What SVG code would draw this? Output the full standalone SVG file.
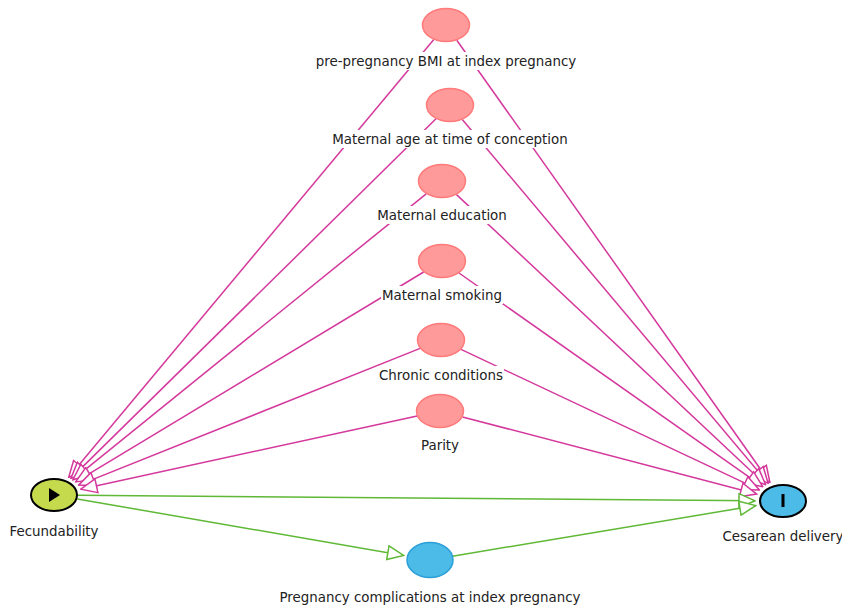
<svg xmlns="http://www.w3.org/2000/svg" width="842" height="610" viewBox="0 0 842 610">
<style>
.m{stroke:#d4389c;stroke-width:1.5;fill:none;marker-end:url(#am)}
.g{stroke:#5fb836;stroke-width:1.5;fill:none;marker-end:url(#ag)}
.conf{fill:#ff9a9a;stroke:#ff7a7a;stroke-width:1.5}
.lbl{font-family:"DejaVu Sans",sans-serif;font-size:13.4px;fill:#222;text-anchor:middle}
.bg{fill:#fff}
</style>
<defs>
<marker id="am" markerUnits="userSpaceOnUse" viewBox="0 0 18 16" markerWidth="18" markerHeight="16" refX="17" refY="8" orient="auto">
<path d="M1,1 L17,8 L1,15 z" fill="#fff" stroke="#d4389c" stroke-width="1.5"/>
</marker>
<marker id="ag" markerUnits="userSpaceOnUse" viewBox="0 0 18 16" markerWidth="18" markerHeight="16" refX="17" refY="8" orient="auto">
<path d="M1,1 L17,8 L1,15 z" fill="#fff" stroke="#5fb836" stroke-width="1.5"/>
</marker>
</defs>
<rect width="842" height="610" fill="#fff"/>
<g id="connectors">
<line class="m" x1="433.8" y1="39.6" x2="68.7" y2="477.3"/>
<line class="m" x1="456.8" y1="40.2" x2="769.9" y2="482.5"/>
<line class="m" x1="436.0" y1="118.8" x2="70.9" y2="478.4"/>
<line class="m" x1="462.3" y1="119.6" x2="768.1" y2="483.3"/>
<line class="m" x1="426.2" y1="193.8" x2="72.9" y2="479.7"/>
<line class="m" x1="456.5" y1="194.6" x2="765.6" y2="484.7"/>
<line class="m" x1="423.7" y1="272.0" x2="75.7" y2="481.9"/>
<line class="m" x1="459.0" y1="273.0" x2="762.7" y2="486.7"/>
<line class="m" x1="420.1" y1="348.4" x2="78.6" y2="485.1"/>
<line class="m" x1="461.0" y1="349.4" x2="759.4" y2="489.9"/>
<line class="m" x1="417.1" y1="416.0" x2="80.8" y2="489.2"/>
<line class="m" x1="462.5" y1="416.9" x2="756.6" y2="494.1"/>
<line class="g" x1="78" y1="495.2" x2="755" y2="500.8"/>
<line class="g" x1="77.3" y1="499.0" x2="403.6" y2="555.4"/>
<line class="g" x1="452.5" y1="556.2" x2="755.7" y2="505.6"/>
</g>
<g id="n-bmi">
<ellipse class="conf" cx="446" cy="25" rx="23.5" ry="16.5"/>
<rect class="bg" x="315" y="52" width="263" height="18"/>
<text class="lbl" x="446" y="65.5">pre-pregnancy BMI at index pregnancy</text>
</g>
<g id="n-age">
<ellipse class="conf" cx="450" cy="105" rx="23.5" ry="16.5"/>
<rect class="bg" x="332" y="130" width="236" height="18"/>
<text class="lbl" x="450" y="143.5">Maternal age at time of conception</text>
</g>
<g id="n-edu">
<ellipse class="conf" cx="442" cy="181" rx="23.5" ry="16.5"/>
<rect class="bg" x="378" y="206" width="129" height="18"/>
<text class="lbl" x="442" y="219.5">Maternal education</text>
</g>
<g id="n-smoke">
<ellipse class="conf" cx="442" cy="261" rx="23.5" ry="16.5"/>
<rect class="bg" x="381" y="286" width="122" height="18"/>
<text class="lbl" x="442" y="299.5">Maternal smoking</text>
</g>
<g id="n-chronic">
<ellipse class="conf" cx="441" cy="340" rx="23.5" ry="16.5"/>
<rect class="bg" x="377" y="366" width="127" height="18"/>
<text class="lbl" x="441" y="379.5">Chronic conditions</text>
</g>
<g id="n-parity">
<ellipse class="conf" cx="440" cy="411" rx="23.5" ry="16.5"/>
<rect class="bg" x="420" y="436" width="39" height="18"/>
<text class="lbl" x="440" y="449.5">Parity</text>
</g>
<g id="n-fec">
<ellipse cx="54" cy="495" rx="23" ry="16" fill="#c6da4e" stroke="#000" stroke-width="2"/>
<polygon points="49,488 60,495 49,502" fill="#000"/>
<text class="lbl" x="54" y="535.5">Fecundability</text>
</g>
<g id="n-ces">
<ellipse cx="783" cy="501" rx="23" ry="16" fill="#4cbbe8" stroke="#000" stroke-width="2"/>
<rect x="781.5" y="494" width="3" height="13" fill="#000"/>
<text class="lbl" x="783" y="540.5">Cesarean delivery</text>
</g>
<g id="n-preg">
<ellipse cx="430" cy="560" rx="23" ry="17.5" fill="#4cbbe8" stroke="#2a9fd8" stroke-width="1.5"/>
<text class="lbl" x="430" y="601.5">Pregnancy complications at index pregnancy</text>
</g>
</svg>
